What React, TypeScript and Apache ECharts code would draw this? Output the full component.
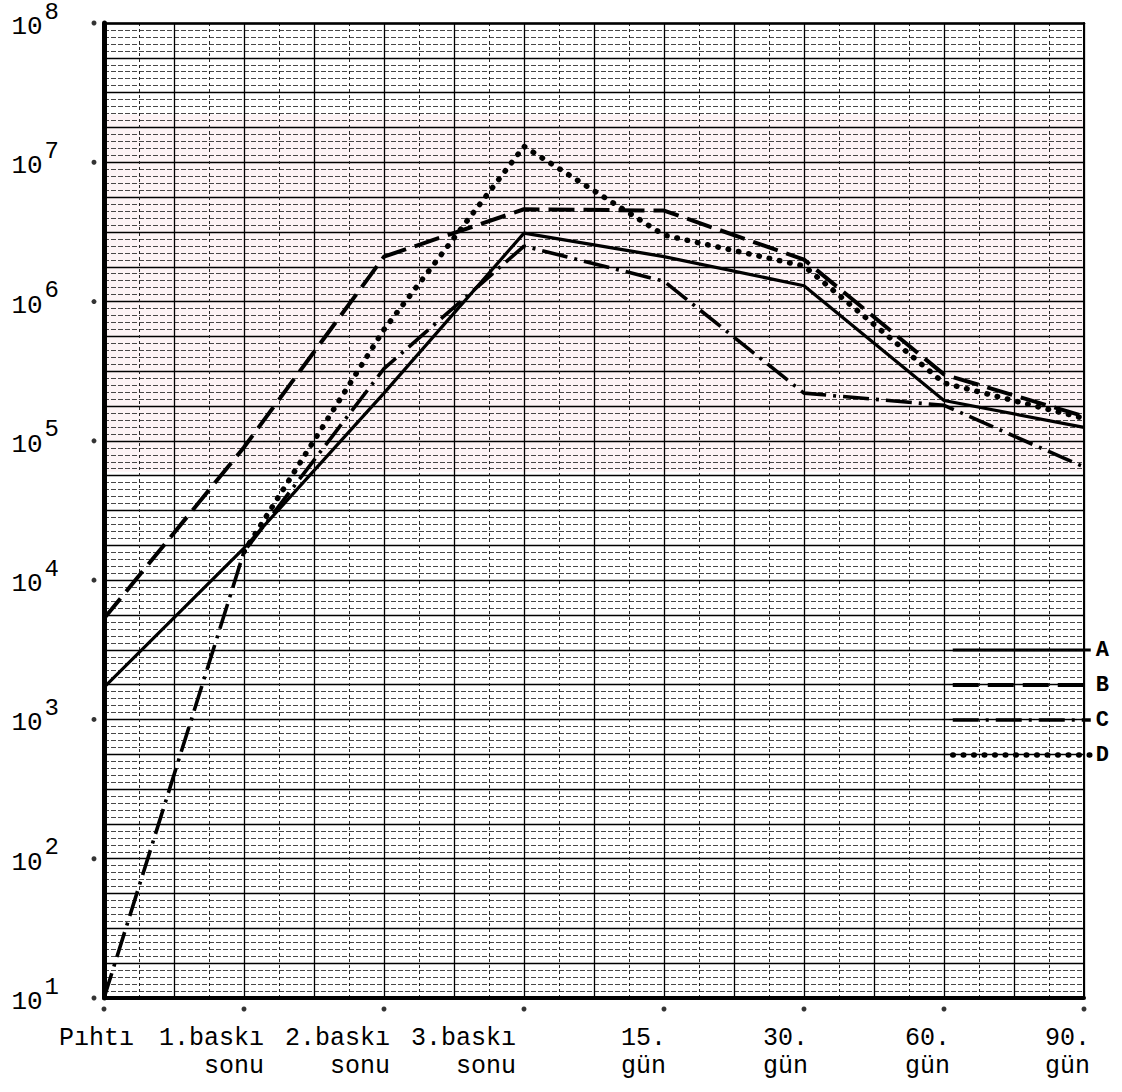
import React, { useEffect, useRef } from 'react';
import * as echarts from 'echarts';

// ---- data ----
const categories = ['Pıhtı', '1.baskı sonu', '2.baskı sonu', '3.baskı sonu', '15. gün', '30. gün', '60. gün', '90. gün'];
const labelLine1 = ['Pıhtı', '1.baskı', '2.baskı', '3.baskı', '15.', '30.', '60.', '90.'];
const labelLine2 = ['', 'sonu', 'sonu', 'sonu', 'gün', 'gün', 'gün', 'gün'];
const seriesNames = ['A', 'B', 'C', 'D'];
const seriesA = [1.7e3, 1.7e4, 2.2e5, 3.1e6, 2.1e6, 1.3e6, 1.95e5, 1.25e5];
const seriesB = [5.3e3, 9.0e4, 2.1e6, 4.6e6, 4.5e6, 2.0e6, 3.0e5, 1.5e5];
const seriesC = [1.0e1, 1.6e4, 3.3e5, 2.5e6, 1.4e6, 2.2e5, 1.8e5, 6.5e4];
const seriesD = [null, 1.6e4, 6.3e5, 1.3e7, 3.0e6, 1.8e6, 2.6e5, 1.45e5];
const yTicks = [1e1, 1e2, 1e3, 1e4, 1e5, 1e6, 1e7, 1e8];

// ---- layout / style (not data) ----
const FONT = '"Liberation Mono", "Courier New", monospace';
const labelShiftX = [30, 20, 6, -8, 2, 4, 6, 6];
const lineStyles: any[] = [
  { color: '#000', width: 3.2, type: 'solid' },
  { color: '#000', width: 4, type: [26, 9] },
  { color: '#000', width: 3.6, type: [26, 7, 3, 7] },
  { color: '#000', width: 5.5, type: [0.5, 10], cap: 'round' },
];

export default function App() {
  const ref = useRef<HTMLDivElement>(null);

  useEffect(() => {
    if (!ref.current) return;
    const chart = echarts.init(ref.current, null, { renderer: 'svg' });

    const dotData: any[] = [];
    categories.forEach((_, i) => dotData.push({ value: [i, yTicks[0]], symbolOffset: [0, 11] }));
    yTicks.forEach((t) => dotData.push({ value: [0, t], symbolOffset: [-10, 0] }));

    const seriesData = [seriesA, seriesB, seriesC, seriesD];

    const option: any = {
      animation: false,
      backgroundColor: '#ffffff',
      grid: { left: 104, top: 18, width: 980, height: 980, containLabel: false },
      legend: {
        data: seriesNames.map((n, i) => ({ name: n, lineStyle: { ...lineStyles[i] } })),
        orient: 'vertical',
        left: 945,
        top: 634,
        itemWidth: 138,
        itemHeight: 14,
        itemGap: 13,
        selectedMode: false,
        itemStyle: { opacity: 0 },
        textStyle: { fontFamily: FONT, fontSize: 22, lineHeight: 20, fontWeight: 'bold', color: '#000' },
      },
      xAxis: [
        {
          type: 'category',
          data: categories,
          boundaryGap: false,
          position: 'bottom',
          axisLine: { show: true, onZero: false, lineStyle: { color: '#000', width: 4 } },
          axisTick: { show: false },
          axisLabel: { show: false },
          splitLine: { show: false },
        },
        {
          type: 'value',
          min: 0,
          max: 14,
          interval: 1,
          position: 'top',
          axisLine: { show: true, onZero: false, lineStyle: { color: '#000', width: 2.5 } },
          axisTick: { show: false },
          axisLabel: { show: false },
          splitLine: { show: true, lineStyle: { color: '#000', width: 1.3 } },
          minorTick: { show: false, splitNumber: 2 },
          minorSplitLine: { show: true, lineStyle: { color: '#222', width: 1, type: [3, 3] } },
        },
      ],
      yAxis: [
        {
          type: 'log',
          logBase: 10,
          min: yTicks[0],
          max: yTicks[yTicks.length - 1],
          splitNumber: 7,
          position: 'left',
          axisLine: { show: true, lineStyle: { color: '#000', width: 5 } },
          axisTick: { show: false },
          splitLine: { show: false },
          axisLabel: {
            margin: 45,
            formatter: (v: number) => `{b|10}{s|${Math.round(Math.log10(v))}}`,
            rich: {
              b: { fontFamily: FONT, fontSize: 26, color: '#000', lineHeight: 26, padding: [14, 2, 6, 0] },
              s: { fontFamily: FONT, fontSize: 24, color: '#000', lineHeight: 24, padding: [0, 0, 22, 0] },
            },
          },
        },
        {
          type: 'value',
          min: 0,
          max: 28,
          interval: 1,
          position: 'right',
          axisLine: { show: true, lineStyle: { color: '#000', width: 2 } },
          axisTick: { show: false },
          axisLabel: { show: false },
          splitLine: { show: true, lineStyle: { color: '#000', width: 1.3 } },
          minorTick: { show: false, splitNumber: 5 },
          minorSplitLine: { show: true, lineStyle: { color: '#333', width: 0.9, type: [5, 2] } },
        },
      ],
      series: [
        ...seriesNames.map((n, i) => ({
          name: n,
          type: 'line',
          data: seriesData[i],
          symbol: 'none',
          z: 5,
          connectNulls: false,
          lineStyle: { ...lineStyles[i] },
          itemStyle: { color: '#000' },
        })),
        {
          name: 'ticks', type: 'scatter', data: dotData, symbol: 'circle', symbolSize: 5,
          itemStyle: { color: '#000' }, silent: true, clip: false, z: 6,
        },
      ],
    };
    chart.setOption(option);

    const yBase = chart.convertToPixel({ yAxisIndex: 0 }, yTicks[0]) as number;
    const texts = labelLine1.map((l1, i) => {
      const x = chart.convertToPixel({ xAxisIndex: 0 }, i) as number;
      const l2 = labelLine2[i];
      return {
        type: 'text',
        x: x + labelShiftX[i],
        y: yBase + 26,
        z: 10,
        style: {
          text: l2 ? `${l1}\n${l2}` : l1,
          textAlign: 'right',
          textVerticalAlign: 'top',
          fontFamily: FONT,
          fontSize: 25,
          lineHeight: 28,
          fill: '#000',
        },
      };
    });
    const gLeft = chart.convertToPixel({ xAxisIndex: 0 }, 0) as number;
    const gRight = chart.convertToPixel({ xAxisIndex: 0 }, categories.length - 1) as number;
    const pinkTop = chart.convertToPixel({ yAxisIndex: 0 }, 2.2e7) as number;
    const pinkBottom = chart.convertToPixel({ yAxisIndex: 0 }, 6e4) as number;
    chart.setOption({
      graphic: [
        {
          type: 'rect',
          z: -1,
          silent: true,
          shape: { x: gLeft, y: pinkTop, width: gRight - gLeft, height: pinkBottom - pinkTop },
          style: { fill: 'rgba(235, 120, 140, 0.09)' },
        },
        ...texts,
      ],
    });

    return () => chart.dispose();
  }, []);

  return (
    <div
      ref={ref}
      style={{ position: 'absolute', left: 0, top: 0, width: 1122, height: 1092, background: '#fff' }}
    />
  );
}
